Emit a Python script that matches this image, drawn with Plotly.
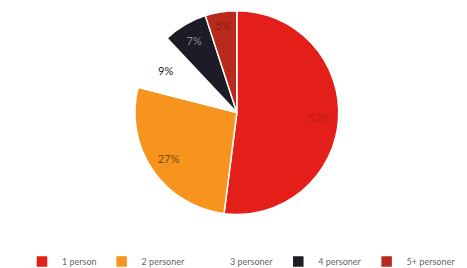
import plotly.graph_objects as go

categories = ["1 person", "2 personer", "3 personer", "4 personer", "5+ personer"]
values = [52, 27, 9, 7, 5]
slice_colors = ["#e41f1a", "#f7941e", "#ffffff", "#1c1c26", "#b82a1c"]
text_colors = ["#c01a12", "#7a4a10", "#222222", "#8a8a92", "#8a1a10"]

dom = dict(x=[0.0, 0.98], y=[0.215, 0.99])

fig = go.Figure()
fig.add_trace(go.Pie(
    labels=categories,
    values=values,
    sort=False,
    direction="clockwise",
    rotation=0,
    marker=dict(colors=slice_colors, line=dict(color="#ffffff", width=1.5)),
    textinfo="none",
    domain=dom,
    hoverinfo="label+percent",
))
# transparent ring used only to place the percentage labels further out
fig.add_trace(go.Pie(
    labels=categories,
    values=values,
    sort=False,
    direction="clockwise",
    rotation=0,
    hole=0.62,
    marker=dict(colors=["rgba(0,0,0,0)"] * 5, line=dict(width=0)),
    texttemplate="%{percent:.0%}",
    textposition="inside",
    insidetextorientation="horizontal",
    textfont=dict(family="Lato, sans-serif", size=11, color=text_colors),
    domain=dom,
    showlegend=False,
    hoverinfo="skip",
))

fig.update_layout(
    width=467, height=268,
    margin=dict(l=0, r=0, t=0, b=0),
    paper_bgcolor="#ffffff",
    plot_bgcolor="#ffffff",
    font=dict(family="Lato, sans-serif", size=9, color="#666666"),
    showlegend=True,
    legend=dict(
        orientation="h",
        x=0.5, xanchor="center",
        y=-0.02, yanchor="bottom",
        font=dict(size=9, color="#666666"),
        itemwidth=30,
        traceorder="normal",
    ),
)

fig.write_html("out.html")
